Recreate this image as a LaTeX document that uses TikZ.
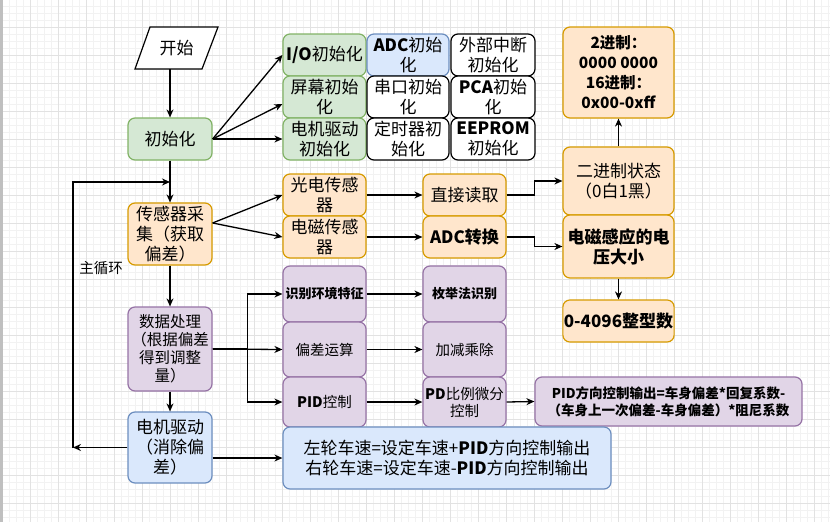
\documentclass[tikz,border=0pt]{standalone}
\usepackage{fontspec}
\setmainfont{Noto Sans CJK SC}
\usetikzlibrary{arrows.meta,calc}
\definecolor{gfill}{HTML}{D5E8D4}\definecolor{gline}{HTML}{82B366}
\definecolor{bfill}{HTML}{DAE8FC}\definecolor{bline}{HTML}{6C8EBF}
\definecolor{ofill}{HTML}{FFE6CC}\definecolor{oline}{HTML}{D79B00}
\definecolor{pfill}{HTML}{E1D5E7}\definecolor{pline}{HTML}{9673A6}
\definecolor{gridmaj}{HTML}{E2E2E2}\definecolor{gridmin}{HTML}{F2F2F2}
\tikzset{
  box/.style={rounded corners=7pt,line width=1.2pt,align=center,inner sep=1pt,
    font=\fontsize{17}{20}\selectfont},
  gbox/.style={box,fill=gfill,draw=gline},
  bbox/.style={box,fill=bfill,draw=bline},
  obox/.style={box,fill=ofill,draw=oline},
  pbox/.style={box,fill=pfill,draw=pline},
  wbox/.style={box,fill=white,draw=black},
  sz/.style 2 args={minimum width=#1pt,minimum height=#2pt},
  small/.style={font=\fontsize{13}{16}\selectfont},
  mid/.style={font=\fontsize{14.5}{17}\selectfont},
  arr/.style={line width=1.3pt,-{Stealth[length=8pt,width=7pt]}},
  ln/.style={line width=1.3pt},
}
\begin{document}
\begin{tikzpicture}[x=1pt,y=-1pt]
\useasboundingbox (0,0) rectangle (830,522);
\fill[white] (0,0) rectangle (830,522);
\foreach \i in {0,...,118} \draw[gridmin,line width=0.5pt] ({2+7*\i},0) -- ({2+7*\i},522);
\foreach \i in {0,...,75} \draw[gridmin,line width=0.5pt] (0,{-1+7*\i}) -- (830,{-1+7*\i});
\foreach \i in {0,...,29} \draw[gridmaj,line width=0.7pt] ({2+28*\i},0) -- ({2+28*\i},522);
\foreach \i in {1,...,18} \draw[gridmaj,line width=0.7pt] (0,{-1+28*\i}) -- (830,{-1+28*\i});
\fill[black!25] (0,0) rectangle (2.5,522);

% start
\draw[line width=1.2pt,fill=white] (150,27) -- (218,27) -- (202,69) -- (135,69) -- cycle;
\node[font=\fontsize{17}{20}\selectfont,minimum width=68pt,minimum height=42pt] (start) at (176.5,48) {开始};

% init column
\node[gbox,sz={84}{42}] (init) at (170,139) {初始化};
\node[gbox,sz={83}{42}] (io) at (324.5,55) {\textbf{I/O}初始化};
\node[gbox,sz={83}{42}] (screen) at (324.5,97) {屏幕初始\\化};
\node[gbox,sz={83}{42}] (motorinit) at (324.5,139) {电机驱动\\初始化};
\node[bbox,sz={82}{42}] (adc) at (408,55) {\textbf{ADC}初始\\化};
\node[wbox,sz={84}{42}] (ext) at (493,55) {外部中断\\初始化};
\node[wbox,sz={82}{42}] (uart) at (408,97) {串口初始\\化};
\node[wbox,sz={84}{42}] (pca) at (493,97) {\textbf{PCA}初始\\化};
\node[wbox,sz={82}{42}] (timer) at (408,139) {定时器初\\始化};
\node[wbox,sz={84}{42}] (eeprom) at (493,139) {\textbf{EEPROM}\\初始化};

% right orange column
\node[obox,sz={111}{91},font=\bfseries\fontsize{15.5}{20}\selectfont] (top) at (618.5,72.5) {2进制：\\0000 0000\\16进制：\\0x00-0xff};
\node[obox,sz={111}{68}] (bin) at (618.5,181) {二进制状态\\（0白1黑）};
\node[obox,sz={111}{63},font=\bfseries\fontsize{17}{20}\selectfont] (emv) at (618.5,246.5) {电磁感应的电\\压大小};
\node[obox,sz={111}{42},font=\bfseries\fontsize{17}{20}\selectfont] (int) at (618.5,321) {0-4096整型数};

% sensors
\node[obox,sz={84}{62}] (sensor) at (170,234) {传感器采\\集（获取\\偏差）};
\node[obox,sz={83}{42}] (photo) at (324.5,195) {光电传感\\器};
\node[obox,sz={83}{42}] (em) at (324.5,237) {电磁传感\\器};
\node[obox,sz={83}{42}] (read) at (464.5,195) {直接读取};
\node[obox,sz={83}{42},font=\bfseries\fontsize{17}{20}\selectfont] (adcconv) at (464.5,237) {ADC转换};

% data processing
\node[pbox,sz={84}{84},font=\fontsize{15.5}{18}\selectfont] (data) at (170,349) {数据处理\\（根据偏差\\得到调整\\量）};
\node[pbox,sz={83}{56},small] (ident) at (324.5,294) {\textbf{识别环境特征}};
\node[pbox,sz={83}{56},small] (enum) at (464.5,294) {\textbf{枚举法识别}};
\node[pbox,sz={83}{55},mid] (dev) at (324.5,349.5) {偏差运算};
\node[pbox,sz={83}{55},mid] (arith) at (464.5,349.5) {加减乘除};
\node[pbox,sz={83}{50},mid] (pid) at (324.5,402) {\textbf{PID}控制};
\node[pbox,sz={83}{50},mid] (pd) at (464.5,402) {\textbf{PD}比例微分\\控制};
\node[pbox,sz={267}{49},font=\bfseries\fontsize{13.5}{17}\selectfont] (pidout) at (668.5,401.5) {PID方向控制输出=车身偏差*回复系数-\\（车身上一次偏差-车身偏差）*阻尼系数};

% motor
\node[bbox,sz={84}{71}] (motor) at (170,447.5) {电机驱动\\（消除偏\\差）};
\node[bbox,sz={328}{62}] (speed) at (447,458) {左轮车速=设定车速+\textbf{PID}方向控制输出\\右轮车速=设定车速-\textbf{PID}方向控制输出};

\node[font=\fontsize{14.5}{17}\selectfont] (looplabel) at (101,268) {主循环};
\coordinate (L1) at (73,447.5);
\coordinate (L2) at (170,182);

% edges
\draw[arr] (init.north |- start.south) -- (init.north);
\draw[arr] (init.east) -- (io.west);
\draw[arr] (init.east) -- ([yshift=-7pt]screen.west);
\draw[arr] (init.east) -- (motorinit.west);
\draw[arr] (init.south) -- (sensor.north);
\draw[arr] (motor.west) -- (L1);
\draw[arr] (L1) -- (L1 |- L2) -- (L2);
\draw[arr] ([yshift=11pt]sensor.east) -- (photo.west);
\draw[arr] ([yshift=11pt]sensor.east) -- (em.west);
\draw[arr] (photo.east) -- (read.west);
\draw[arr] (em.east) -- (adcconv.west);
\draw[arr] (read.east) -- ++(28,0) |- (bin.west);
\draw[arr] (adcconv.east) -- ++(28,0) |- (emv.west);
\draw[arr] (bin.north) -- (top.south);
\draw[arr] (emv.south) -- (int.north);
\draw[arr] (sensor.south) -- (data.north);
\draw[arr] (data.east) -- (dev.west);
\draw[arr] (data.east) -- ++(35,0) |- (ident.west);
\draw[arr] (data.east) -- ++(35,0) |- (pid.west);
\draw[arr] (ident.east) -- (enum.west);
\draw[arr] (dev.east) -- (arith.west);
\draw[arr] (pid.east) -- (pd.west);
\draw[arr] (pd.east) -- (pidout.west);
\draw[arr] (data.south) -- (motor.north);
\draw[arr] (motor.east |- speed.west) -- (speed.west);
\end{tikzpicture}
\end{document}
